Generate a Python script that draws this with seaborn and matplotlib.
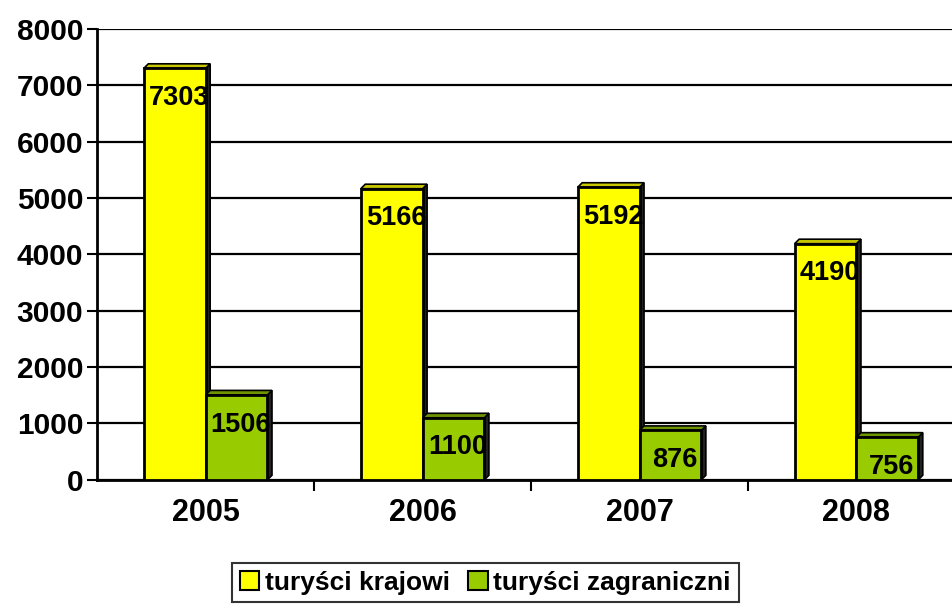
import matplotlib
matplotlib.use("Agg")
import matplotlib.pyplot as plt
import seaborn as sns
import pandas as pd
from matplotlib.patches import Patch, Polygon

years = ["2005", "2006", "2007", "2008"]
krajowi = [7303, 5166, 5192, 4190]
zagraniczni = [1506, 1100, 876, 756]
series_names = ["turyści krajowi", "turyści zagraniczni"]
colors = ["#FFFF00", "#99CC00"]
top_colors = ["#C8C800", "#6E9400"]

df = pd.DataFrame({
    "rok": years * 2,
    "liczba": krajowi + zagraniczni,
    "typ": [series_names[0]] * len(years) + [series_names[1]] * len(years),
})

sns.set_style("white")
plt.rcParams["font.family"] = ["Liberation Sans", "DejaVu Sans"]
plt.rcParams["font.weight"] = "bold"
for key in ["text.color", "axes.labelcolor", "xtick.color", "ytick.color"]:
    plt.rcParams[key] = "black"

fig = plt.figure(figsize=(9.53, 6.05), dpi=100)
ax = fig.add_axes([0.102, 0.207, 0.898, 0.745])

sns.barplot(data=df, x="rok", y="liczba", hue="typ", palette=colors,
            width=0.57, edgecolor="black", linewidth=2, saturation=1,
            ax=ax, zorder=3)
ax.get_legend().remove()

ax.set_ylim(0, 8000)
ax.set_xlim(-0.5, 3.445)
ax.set_yticks(range(0, 8001, 1000))
ax.yaxis.grid(True, color="black", linewidth=1.6)
ax.set_axisbelow(True)
ax.set_xlabel("")
ax.set_ylabel("")

for s in ["top", "right"]:
    ax.spines[s].set_visible(False)
for s in ["left", "bottom"]:
    ax.spines[s].set_color("black")
    ax.spines[s].set_linewidth(2)

ax.tick_params(axis="y", direction="out", length=7, width=1.5, colors="black",
               labelsize=21.5, left=True, pad=3)
ax.tick_params(axis="x", which="major", length=0, labelsize=22, pad=13,
               colors="black")
ax.set_xticks([0.5, 1.5, 2.5], minor=True)
ax.tick_params(axis="x", which="minor", direction="out", length=8, width=1.5,
               bottom=True)
for lab in ax.get_xticklabels() + ax.get_yticklabels():
    lab.set_fontweight("bold")

fig.canvas.draw()
# 3D-style top and side faces, depth derived from the axes scale
px_x = ax.transData.transform((1, 0))[0] - ax.transData.transform((0, 0))[0]
px_y = ax.transData.transform((0, 1000))[1] - ax.transData.transform((0, 0))[1]
depth = 4.5
dx = depth / px_x
dy = depth * 1000 / px_y

for cont, tc in zip(ax.containers, top_colors):
    for bar in cont:
        x0 = bar.get_x()
        x1 = x0 + bar.get_width()
        h = bar.get_height()
        ax.add_patch(Polygon([(x0, h), (x1, h), (x1 + dx, h + dy), (x0 + dx, h + dy)],
                             closed=True, facecolor=tc, edgecolor="black",
                             linewidth=1.2, zorder=2.9))
        ax.add_patch(Polygon([(x1, 0), (x1 + dx, dy), (x1 + dx, h + dy), (x1, h)],
                             closed=True, facecolor="#222222", edgecolor="black",
                             linewidth=1.2, zorder=2.8))
        ax.annotate(f"{h:.0f}", (x0 + bar.get_width() / 2 + 0.02, h), xytext=(0, -12),
                    textcoords="offset points", ha="center", va="top",
                    fontsize=19.5, fontweight="bold", color="black", zorder=5)

handles = [Patch(facecolor=c, edgecolor="black", linewidth=1.5) for c in colors]
leg = fig.legend(handles, series_names, loc="upper center", ncol=2,
                 bbox_to_anchor=(0.509, 0.07), frameon=True, fancybox=False,
                 prop={"size": 19, "weight": "bold"}, handlelength=0.75,
                 handleheight=0.75, handletextpad=0.2, columnspacing=0.7,
                 borderpad=0.3, borderaxespad=0)
leg.get_frame().set_edgecolor("black")
leg.get_frame().set_linewidth(1.5)

fig.savefig("out.png", dpi=100)
